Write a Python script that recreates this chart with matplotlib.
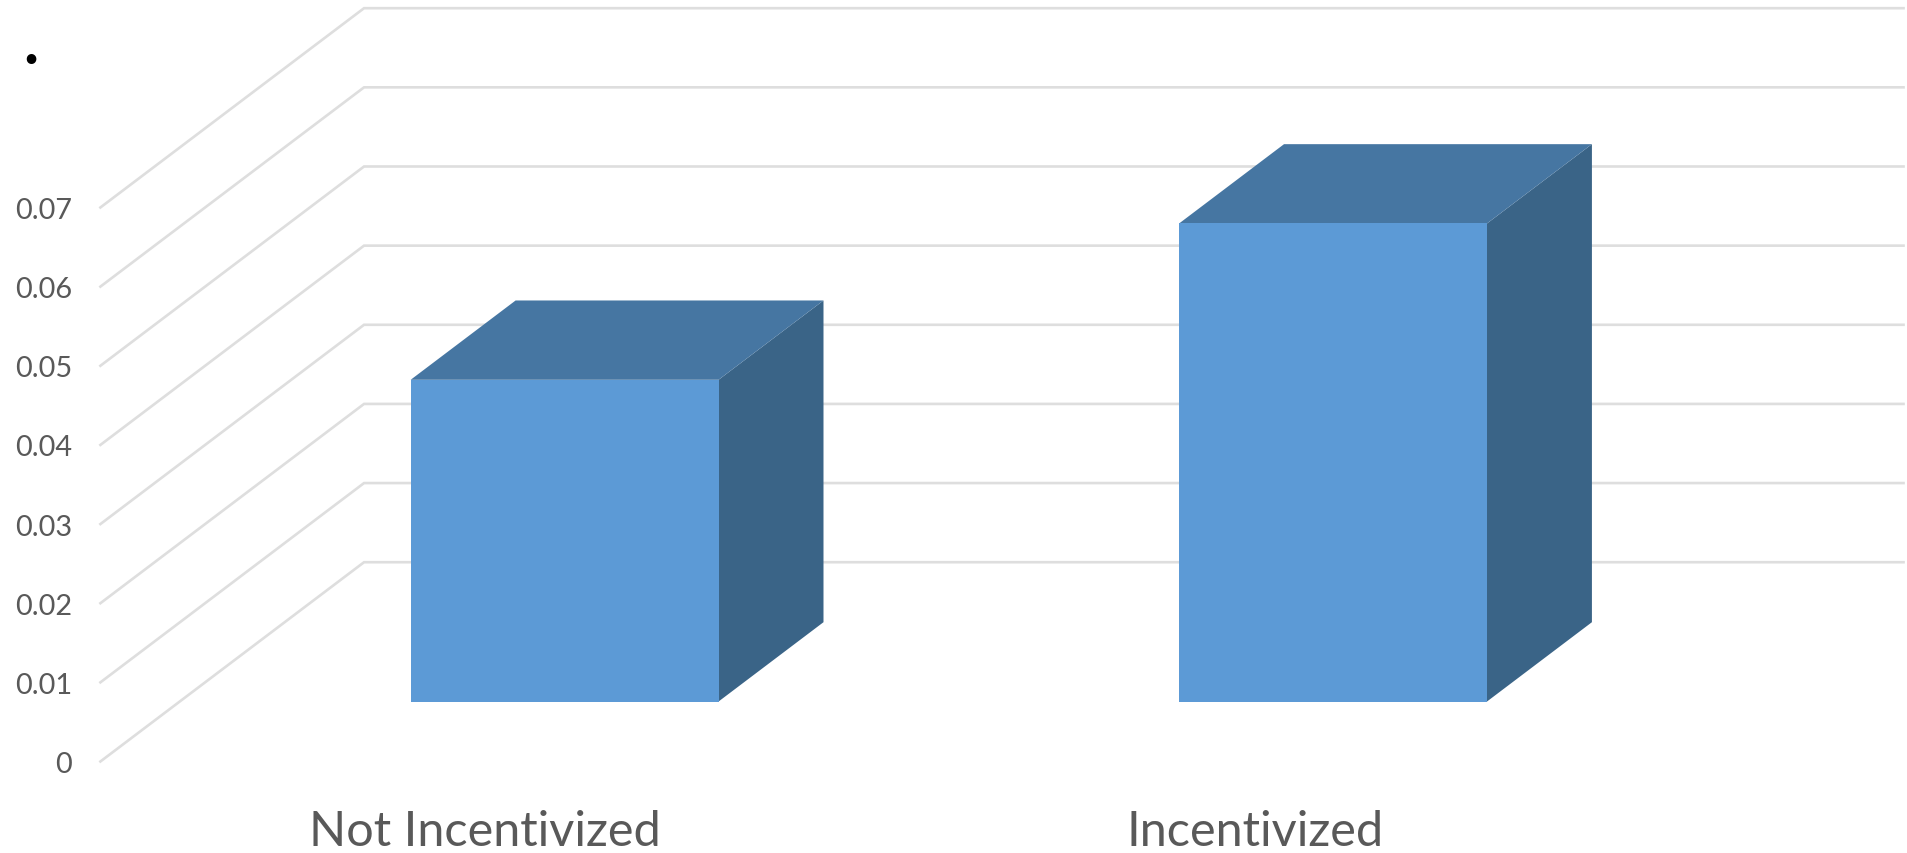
import matplotlib
matplotlib.use("Agg")
import matplotlib.pyplot as plt
from matplotlib.patches import Polygon

# datos
categorias = ["Not Incentivized", "Incentivized"]
valores = [0.04065, 0.0604]
ticks_y = [0, 0.01, 0.02, 0.03, 0.04, 0.05, 0.06, 0.07]
etiquetas_y = ["0", "0.01", "0.02", "0.03", "0.04", "0.05", "0.06", "0.07"]

# falsa perspectiva: cuanto se desplaza el fondo, en unidades de los ejes
PROF_X = 0.3425
PROF_Y = 0.02518
ANCHO_BARRA = 0.4
ESPACIADO = 0.9983
PROF_INI = 0.301
PROF_FIN = 0.699

GRIS = "#DEDEDE"
TEXTO = "#595959"
FRENTE = "#5C9AD6"
TAPA = "#4676A2"
LADO = "#3A6487"

ANCHO, ALTO = 1908, 854


def proyectar(x, prof, v):
    return (x + prof * PROF_X, v + prof * PROF_Y)


fig = plt.figure(figsize=(ANCHO / 100, ALTO / 100), dpi=100)
# ejes en pixeles: x 100.4-1903.5, y 762.5 (valor 0) hasta 9.2
ax = fig.add_axes([100.4 / ANCHO, 1 - 762.5 / ALTO, 1803.1 / ANCHO, 753.3 / ALTO])
ax.set_xlim(-0.5, 1.5 + PROF_X)
ax.set_ylim(0, ticks_y[-1] + PROF_Y)
ax.patch.set_alpha(0)
for lado in ax.spines.values():
    lado.set_visible(False)

# lineas de la rejilla: pared lateral y pared del fondo
for t in ticks_y:
    xs, ys = zip(proyectar(-0.5, 0, t), proyectar(-0.5, 1, t), proyectar(1.5, 1, t))
    ax.plot(xs, ys, color=GRIS, lw=1.9, zorder=1, clip_on=False, solid_joinstyle="miter")

# barras
for i, v in enumerate(valores):
    x0 = i * ESPACIADO - ANCHO_BARRA / 2
    x1 = i * ESPACIADO + ANCHO_BARRA / 2
    frente = [proyectar(x0, PROF_INI, 0), proyectar(x1, PROF_INI, 0),
              proyectar(x1, PROF_INI, v), proyectar(x0, PROF_INI, v)]
    tapa = [proyectar(x0, PROF_INI, v), proyectar(x1, PROF_INI, v),
            proyectar(x1, PROF_FIN, v), proyectar(x0, PROF_FIN, v)]
    lado = [proyectar(x1, PROF_INI, 0), proyectar(x1, PROF_FIN, 0),
            proyectar(x1, PROF_FIN, v), proyectar(x1, PROF_INI, v)]
    ax.add_patch(Polygon(lado, closed=True, facecolor=LADO, edgecolor="none", zorder=3))
    ax.add_patch(Polygon(tapa, closed=True, facecolor=TAPA, edgecolor="none", zorder=3))
    ax.add_patch(Polygon(frente, closed=True, facecolor=FRENTE, edgecolor="none", zorder=4))

ax.set_yticks(ticks_y)
ax.set_yticklabels(etiquetas_y, fontfamily="Lato", fontsize=20.8, color=TEXTO)
ax.set_xticks(range(len(categorias)))
ax.set_xticklabels(categorias, fontfamily="Lato", fontsize=35, color=TEXTO)
ax.tick_params(axis="y", length=0, pad=20.5)
ax.tick_params(axis="x", length=0, pad=34.5)

# el punto suelto de arriba a la izquierda
fig.text(31.3 / ANCHO, 1 - 63.5 / ALTO, ".", fontfamily="Lato", fontweight="bold",
         fontsize=46, color="black", ha="center", va="baseline")

fig.savefig("out.png", dpi=100, facecolor="white")
